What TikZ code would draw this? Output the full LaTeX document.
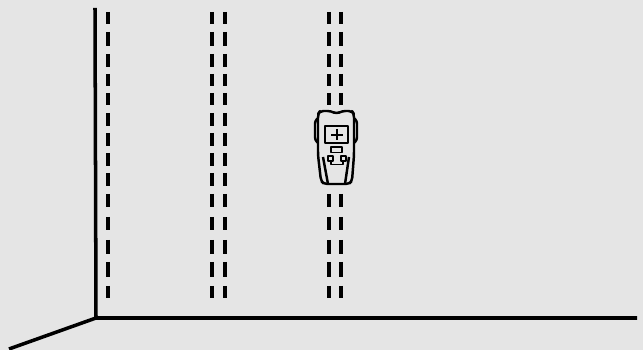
\documentclass[tikz,border=0pt]{standalone}
\usepackage{tikz}
\definecolor{wallbg}{HTML}{E5E5E5}
\newcommand{\topdashes}{12/24,32/46,54/67,74/86,93/105}
\newcommand{\middashes}{113/126,133/146,153/166,173/186}
\newcommand{\lowdashes}{194/207,217/230,240/254,262/277,286/298}
\begin{document}
\begin{tikzpicture}[
  x=0.02cm,y=-0.02cm,
  edgeline/.style={line width=2pt,black},
  studline/.style={line width=1.9pt,black},
  meter/.style={line width=1.1pt,black,line join=round},
  meterthick/.style={meter,line width=1.4pt}
]
  \fill[wallbg] (0,0) rectangle (643,350);
  \useasboundingbox (0,0) rectangle (643,350);

  \coordinate (corner) at (96,318);
  \coordinate (walltop) at (95,8);
  \coordinate (wallend) at (637,318);
  \coordinate (floorend) at (9,349);
  \draw[edgeline] (walltop) -- (corner) -- (wallend);
  \draw[edgeline] (corner) -- (floorend);

  \foreach \xpos in {108,212,225,329,341}
    \foreach \ya/\yb in \topdashes
      \draw[studline] (\xpos,\ya) -- (\xpos,\yb);
  \foreach \xpos in {108,212,225}
    \foreach \ya/\yb in \middashes
      \draw[studline] (\xpos,\ya) -- (\xpos,\yb);
  \foreach \xpos in {108,212,225,329,341}
    \foreach \ya/\yb in \lowdashes
      \draw[studline] (\xpos,\ya) -- (\xpos,\yb);

  % stud finder
  \draw[meterthick,rounded corners=2pt] (331,111) -- (336.5,114) -- (342,111) -- (352,111)
    -- (354,114) -- (354,155) -- (352,181) -- (349,184) -- (324,184) -- (321,181) -- (318,155) -- (318,114) -- (320,111) -- cycle;
  \draw[meterthick,rounded corners=1.5pt] (318,118) -- (315,121) -- (315,140) -- (318,143);
  \draw[meterthick,rounded corners=1.5pt] (354,118) -- (357,121) -- (357,140) -- (354,143);
  \draw[meterthick] (323,157) -- (328,184);
  \draw[meterthick] (349,157) -- (345,184);
  \draw[meterthick] (325,126) rectangle (348,143);
  \draw[meter,line width=1.3pt] (337,129) -- (337,140);
  \draw[meter,line width=1.3pt] (331,135) -- (343,135);
  \draw[meter] (331,147) rectangle (342,152.5);
  \draw[meter] (328,156) rectangle (333,161);
  \draw[meter] (341,156) rectangle (346,161);
  \draw[meter] (331,161) -- (331,164.5) -- (343,164.5) -- (343,161);
\end{tikzpicture}
\end{document}
